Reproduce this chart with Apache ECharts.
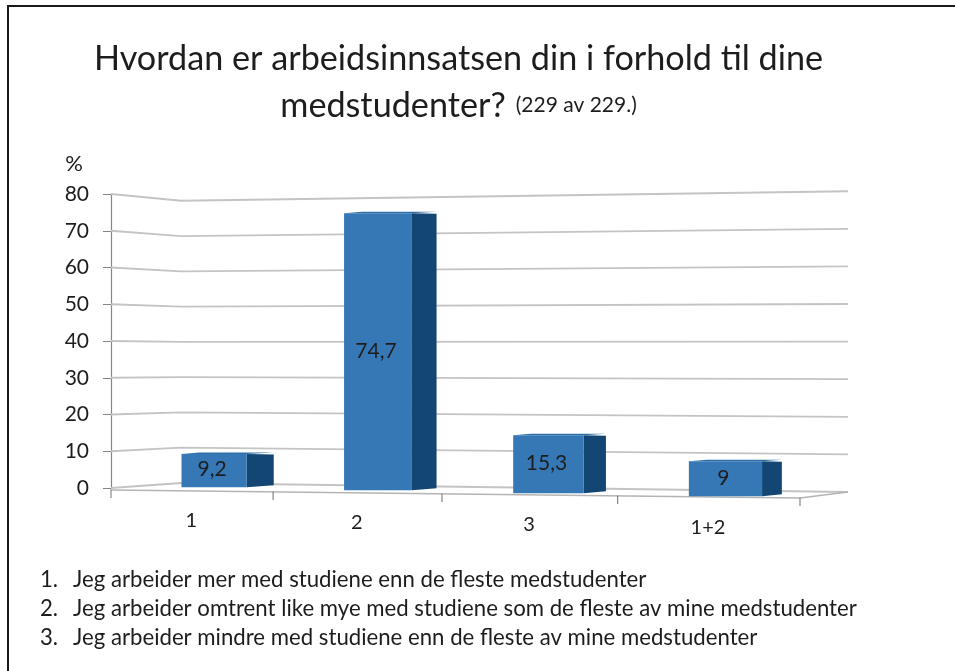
<!DOCTYPE html>
<html>
<head>
<meta charset="utf-8">
<style>
  html, body { margin: 0; padding: 0; background: #fff; }
  #chart { width: 955px; height: 671px; }
</style>
<script src="https://cdn.jsdelivr.net/npm/echarts@6/dist/echarts.min.js"></script>
</head>
<body>
<div id="chart"></div>
<script>
const categories = ["1", "2", "3", "1+2"];
const values = [9.2, 74.7, 15.3, 9];
const yTicks = [0, 10, 20, 30, 40, 50, 60, 70, 80];
const titleLine1 = "Hvordan er arbeidsinnsatsen din i forhold til dine";
const titleLine2 = "medstudenter?";
const titleNote = "(229 av 229.)";
const notes = [
  "Jeg arbeider mer med studiene enn de fleste medstudenter",
  "Jeg arbeider omtrent like mye med studiene som de fleste av mine medstudenter",
  "Jeg arbeider mindre med studiene enn de fleste av mine medstudenter"
];

const FONT = "Lato";
const TEXT = "#1d1d1d";
const GRIDLINE = "#c4c4c4";
const AXIS = "#868686";
const WALL_X = 70; // back corner of the left wall
const RIGHT_X = 848;

// the floor widens toward the right, so slots are not evenly spaced on screen
function slotX(api, t) {
  const x0 = api.coord([0, 0])[0] - api.size([1, 0])[0] / 2;
  return x0 + api.size([1, 0])[0] * t + 3.375 * t * (t - 4);
}

function renderWalls(params, api) {
  const v = api.value(0);
  const p = api.coord([0, v]);
  const y0 = api.coord([0, 0])[1];
  const h = p[1] - y0;
  const left = slotX(api, 0);
  return {
    type: "polyline",
    shape: { points: [
      [left, p[1]],
      [left + WALL_X, y0 - 5 + h * 0.96],
      [RIGHT_X, y0 + 4 + h * 1.023]
    ] },
    style: { fill: null, stroke: GRIDLINE, lineWidth: 1.8 }
  };
}

function renderFloor(params, api) {
  const y0 = api.coord([0, 0])[1];
  const frontY = (t) => y0 + 2 + 2 * t;
  const children = [{
    type: "polyline",
    shape: { points: [
      [slotX(api, 0), frontY(0)],
      [slotX(api, 4), frontY(4)],
      [RIGHT_X, y0 + 4]
    ] },
    style: { fill: null, stroke: "#b4b4b4", lineWidth: 1.5 }
  }];
  for (let t = 0; t <= 4; t++) {
    children.push({
      type: "line",
      shape: { x1: slotX(api, t), y1: frontY(t) - 0.5, x2: slotX(api, t), y2: frontY(t) + 8 },
      style: { stroke: AXIS, lineWidth: 1.2 }
    });
  }
  return { type: "group", children };
}

function renderBar(params, api) {
  const i = params.dataIndex;
  const v = api.value(1);
  const y0 = api.coord([i, 0])[1];
  const axisH = y0 - api.coord([i, v])[1];
  const mid = i + 0.62;
  const xl = slotX(api, i * 0.985 + 0.44);
  const xr = slotX(api, i * 0.985 + 0.84);
  const base = y0 - 2.5 + 3 * mid;
  const top = base - axisH * (3.57 + 0.09 * mid) / 3.68;
  const depth = 27 - 2.4 * i;
  const cy = (top + base) / 2;
  return {
    type: "group",
    children: [
      {
        type: "polygon",
        shape: { points: [[xl, top], [xl + 18, top - 1.5], [xr + depth, top - 1.5], [xr, top]] },
        style: { fill: "#2f6fa9" }
      },
      {
        type: "polygon",
        shape: { points: [[xr, top], [xr + depth, top + 0.5], [xr + depth, base - 2], [xr, base]] },
        style: { fill: "#134672" }
      },
      {
        type: "rect",
        shape: { x: xl, y: top, width: xr - xl, height: base - top },
        style: { fill: "#3578b5" }
      },
      {
        type: "text",
        style: {
          x: (xl + xr) / 2 - 2, y: cy - 1,
          text: String(v).replace(".", ","),
          align: "center", verticalAlign: "middle",
          fill: TEXT, font: "21px " + FONT
        }
      },
      {
        type: "text",
        style: {
          x: slotX(api, i + 0.5), y: y0 + 31 + 2.4 * (i + 0.5),
          text: categories[i],
          align: "center", verticalAlign: "middle",
          fill: TEXT, font: "20px " + FONT
        }
      }
    ]
  };
}

const chart = echarts.init(document.getElementById("chart"));

const noteGraphics = [];
notes.forEach((line, i) => {
  const y = 581 + i * 28.7;
  noteGraphics.push(
    { type: "text", left: 40, top: y - 12, style: { text: (i + 1) + ".", fill: TEXT, font: "22.2px " + FONT } },
    { type: "text", left: 73, top: y - 12, style: { text: line, fill: TEXT, font: "22.2px " + FONT } }
  );
});

chart.setOption({
  animation: false,
  backgroundColor: "#fff",
  title: {
    left: 453.5,
    top: 30,
    textAlign: "center",
    text: "{a|" + titleLine1 + "}\n{a|" + titleLine2 + "}  {b|" + titleNote + "}",
    textStyle: {
      rich: {
        a: { fontFamily: FONT, fontWeight: "normal", fontSize: 34.2, lineHeight: 47, color: TEXT },
        b: { fontFamily: FONT, fontWeight: "normal", fontSize: 21, lineHeight: 47, color: TEXT }
      }
    }
  },
  graphic: [
    { type: "line", shape: { x1: 8, y1: 6, x2: 955, y2: 6 }, style: { stroke: "#1a1a1a", lineWidth: 2 } },
    { type: "line", shape: { x1: 8, y1: 5, x2: 8, y2: 671 }, style: { stroke: "#1a1a1a", lineWidth: 2 } }
  ].concat(noteGraphics),
  grid: { left: 111, top: 194, width: 689, height: 294 },
  xAxis: {
    type: "category",
    data: categories,
    axisLine: { show: false },
    axisTick: { show: false },
    axisLabel: { show: false },
    splitLine: { show: false }
  },
  yAxis: {
    type: "value",
    min: 0,
    max: 80,
    interval: 10,
    name: "%",
    nameLocation: "end",
    nameGap: 19,
    nameTextStyle: { fontFamily: FONT, fontSize: 22, color: TEXT, align: "right", padding: [0, 28, 0, 0] },
    axisLine: { show: true, lineStyle: { color: AXIS, width: 1.2 } },
    axisTick: { show: true, length: 8, lineStyle: { color: AXIS } },
    axisLabel: { fontFamily: FONT, fontSize: 21, color: TEXT, margin: 22 },
    splitLine: { show: false }
  },
  series: [
    { type: "custom", z: 1, renderItem: renderWalls, data: yTicks.map((v) => [v]), encode: { y: 0 }, silent: true },
    { type: "custom", z: 2, renderItem: renderFloor, data: [[0, 0]], silent: true },
    { type: "custom", z: 3, renderItem: renderBar, data: values.map((v, i) => [i, v]), encode: { x: 0, y: 1 } }
  ]
});
</script>
</body>
</html>
